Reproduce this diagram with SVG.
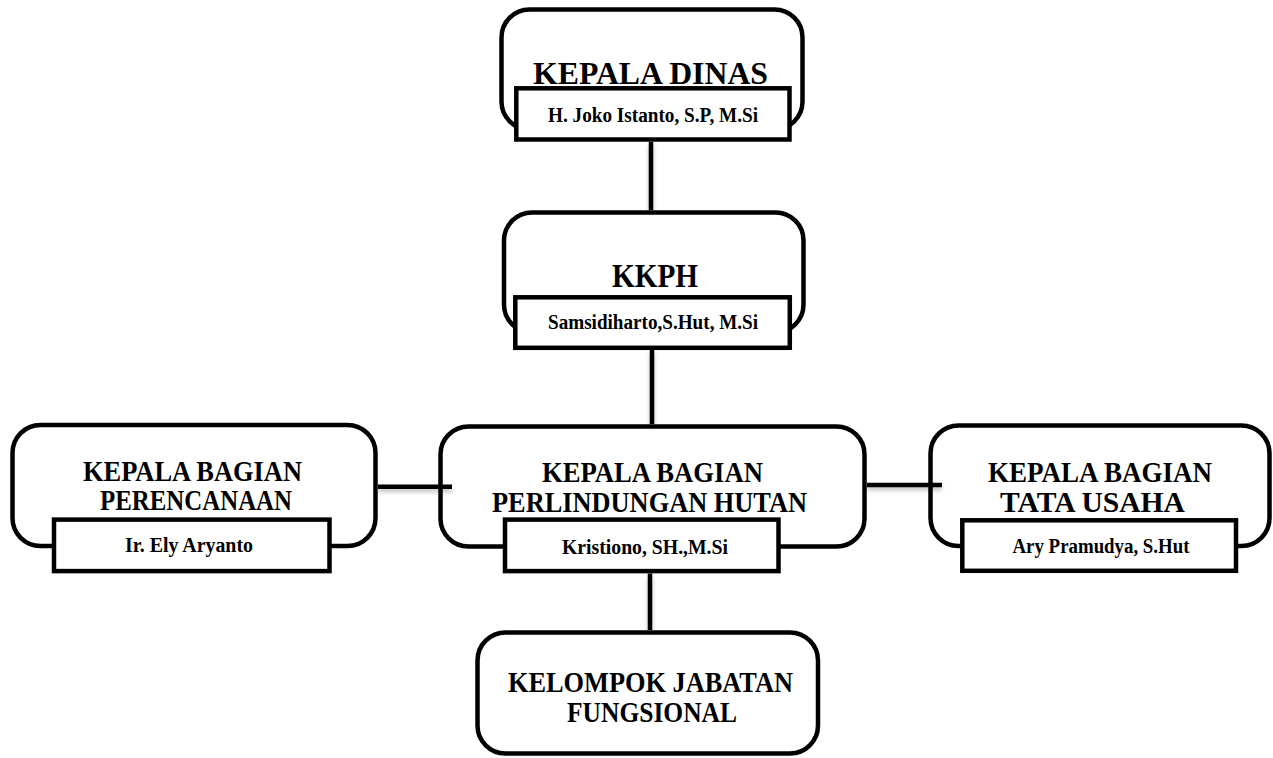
<svg xmlns="http://www.w3.org/2000/svg" width="1273" height="758" viewBox="0 0 1273 758">
<defs>
<style>
.outer{fill:#fff;stroke:#000;stroke-width:4.5}
.inner{fill:#fff;stroke:#000;stroke-width:4.5}
.t{font-family:"Liberation Serif","Times New Roman",serif;font-weight:bold;fill:#000;text-anchor:middle}
.big{font-size:28.5px}
.sub{font-size:20px}
.conn{stroke:#000;stroke-width:4.5;fill:none;stroke-linecap:butt}
</style>
<filter id="sh" x="-20%" y="-20%" width="140%" height="160%">
<feDropShadow dx="0" dy="3" stdDeviation="2" flood-color="#000" flood-opacity="0.25"/>
</filter>
</defs>
<rect width="1273" height="758" fill="#fff"/>

<g id="node-kepala-dinas">
<rect class="outer" x="501.5" y="9.5" width="301" height="120" rx="28"/>
<text class="t" x="650.5" y="84" font-size="32" textLength="235" lengthAdjust="spacingAndGlyphs">KEPALA  DINAS</text>
<rect class="inner" x="516.3" y="88.3" width="273.2" height="51.2"/>
<text class="t sub" x="653" y="122" textLength="210" lengthAdjust="spacingAndGlyphs">H. Joko Istanto, S.P, M.Si</text>
</g>

<g id="node-kkph">
<rect class="outer" x="504" y="212.5" width="299.5" height="120" rx="28"/>
<text class="t" x="655" y="287" font-size="33" textLength="86" lengthAdjust="spacingAndGlyphs">KKPH</text>
<rect class="inner" x="515.3" y="297.3" width="274.5" height="50.5"/>
<text class="t sub" x="653" y="329" textLength="210" lengthAdjust="spacingAndGlyphs">Samsidiharto,S.Hut, M.Si</text>
</g>

<g id="node-perencanaan">
<rect class="outer" x="12.5" y="425" width="363" height="121" rx="28"/>
<text class="t big" x="192.5" y="481" textLength="219" lengthAdjust="spacingAndGlyphs">KEPALA BAGIAN</text>
<text class="t big" x="196" y="510" textLength="192" lengthAdjust="spacingAndGlyphs">PERENCANAAN</text>
<rect class="inner" x="54" y="519.6" width="275.5" height="51.5"/>
<text class="t sub" x="189" y="552" textLength="128" lengthAdjust="spacingAndGlyphs">Ir. Ely Aryanto</text>
</g>

<g id="node-perlindungan">
<rect class="outer" x="440.5" y="426.5" width="424" height="120" rx="28"/>
<text class="t big" x="652.5" y="482" textLength="221" lengthAdjust="spacingAndGlyphs">KEPALA BAGIAN</text>
<text class="t big" x="649.5" y="512" textLength="315" lengthAdjust="spacingAndGlyphs">PERLINDUNGAN HUTAN</text>
<rect class="inner" x="505" y="519.6" width="273.5" height="51.5"/>
<text class="t sub" x="645" y="554" textLength="166" lengthAdjust="spacingAndGlyphs">Kristiono, SH.,M.Si</text>
</g>

<g id="node-tata-usaha">
<rect class="outer" x="930.5" y="425.5" width="339" height="120.5" rx="28"/>
<text class="t big" x="1100" y="482" textLength="224" lengthAdjust="spacingAndGlyphs">KEPALA BAGIAN</text>
<text class="t big" x="1092.5" y="512" textLength="185" lengthAdjust="spacingAndGlyphs">TATA  USAHA</text>
<rect class="inner" x="962.3" y="520.3" width="273.7" height="50.5"/>
<text class="t sub" x="1101" y="553" textLength="177" lengthAdjust="spacingAndGlyphs">Ary Pramudya, S.Hut</text>
</g>

<g id="node-fungsional">
<rect class="outer" x="477.5" y="632.5" width="340.5" height="121" rx="28"/>
<text class="t big" x="650.5" y="692" textLength="285" lengthAdjust="spacingAndGlyphs">KELOMPOK JABATAN</text>
<text class="t big" x="652" y="722" textLength="170" lengthAdjust="spacingAndGlyphs">FUNGSIONAL</text>
</g>

<g id="connectors" filter="url(#sh)">
<line class="conn" x1="651" y1="142" x2="651" y2="210"/>
<line class="conn" x1="652" y1="350" x2="652" y2="424"/>
<line class="conn" x1="378" y1="486.7" x2="452" y2="486.7"/>
<line class="conn" x1="867" y1="485" x2="942" y2="485"/>
<line class="conn" x1="650" y1="573.5" x2="650" y2="630"/>
</g>
</svg>
